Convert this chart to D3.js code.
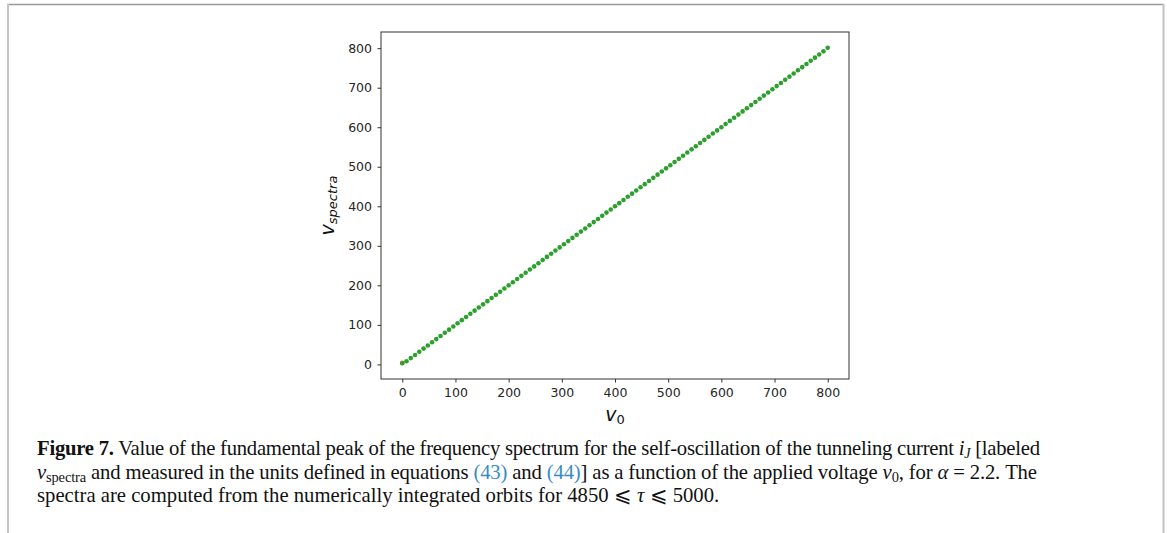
<!DOCTYPE html>
<html>
<head>
<meta charset="utf-8">
<script src="https://cdn.jsdelivr.net/npm/d3@7"></script>
<style>
    body{margin:0;background:#fff;}
    svg{display:block;}
</style>
</head>
<body>
<main></main>
<script>
// data
const v0=[0,8,16,24,32,40,48,56,64,72,80,88,96,104,112,120,128,136,144,152,160,168,176,184,192,200,
    208,216,224,232,240,248,256,264,272,280,288,296,304,312,320,328,336,344,352,360,368,376,384,392,400,
    408,416,424,432,440,448,456,464,472,480,488,496,504,512,520,528,536,544,552,560,568,576,584,592,600,
    608,616,624,632,640,648,656,664,672,680,688,696,704,712,720,728,736,744,752,760,768,776,784,792,800];
const vSpectra=[3,8,16,24,32,40,48,56,64,72,80,88,96,104,112,120,128,136,144,152,160,168,176,184,192,200,
    208,216,224,232,240,248,256,264,272,280,288,296,304,312,320,328,336,344,352,360,368,376,384,392,400,
    408,416,424,432,440,448,456,464,472,480,488,496,504,512,520,528,536,544,552,560,568,576,584,592,600,
    608,616,624,632,640,648,656,664,672,680,688,696,704,712,720,728,736,744,752,760,768,776,784,792,801];
// a single orange point sits under the first green one
const orangeV0=[0];
const orangeSpec=[4];

const xTicks=[0,100,200,300,400,500,600,700,800];
const yTicks=[0,100,200,300,400,500,600,700,800];

const sizeOfSVG={width:1167,height:533};
const plot={left:381,right:849,top:32,bottom:379};

const svg=d3.select('main')
    .append('svg')
    .attr('width',sizeOfSVG.width)
    .attr('height',sizeOfSVG.height);

// page frame
const frame=()=>{
    svg.append('line').attr('x1',7).attr('x2',1164).attr('y1',4.5).attr('y2',4.5)
        .attr('stroke','#9a9a9a').attr('stroke-width',1.3);
    svg.append('line').attr('x1',8).attr('x2',8).attr('y1',4).attr('y2',533)
        .attr('stroke','#c6c6c6').attr('stroke-width',2);
    svg.append('line').attr('x1',1163.5).attr('x2',1163.5).attr('y1',4).attr('y2',533)
        .attr('stroke','#c2c2c2').attr('stroke-width',2);
};

// matplotlib style 5% margins
const padded=(vals)=>{
    const lo=d3.min(vals),hi=d3.max(vals),m=(hi-lo)*0.05;
    return [lo-m,hi+m];
};

const xScale=d3.scaleLinear().domain(padded(v0)).range([plot.left,plot.right]);
const yScale=d3.scaleLinear().domain(padded(vSpectra)).range([plot.bottom,plot.top]);

const axes=()=>{
    const xAxis=svg.append('g')
        .attr('transform',`translate(0,${plot.bottom})`)
        .call(d3.axisBottom(xScale).tickValues(xTicks).tickSize(3.5).tickPadding(6).tickSizeOuter(0));
    const yAxis=svg.append('g')
        .attr('transform',`translate(${plot.left},0)`)
        .call(d3.axisLeft(yScale).tickValues(yTicks).tickSize(3.5).tickPadding(5.5).tickSizeOuter(0));
    [xAxis,yAxis].forEach(g=>{
        g.select('.domain').remove();
        g.selectAll('.tick line').attr('stroke','#333').attr('stroke-width',1);
        g.selectAll('.tick text').attr('fill','#262626')
            .style('font-family','"DejaVu Sans", sans-serif').style('font-size','12.5px');
    });
    svg.append('rect')
        .attr('x',plot.left).attr('y',plot.top)
        .attr('width',plot.right-plot.left).attr('height',plot.bottom-plot.top)
        .attr('fill','none').attr('stroke','#333').attr('stroke-width',1);
};

const labels=()=>{
    const xl=svg.append('text')
        .attr('x',(plot.left+plot.right)/2).attr('y',421)
        .attr('text-anchor','middle')
        .style('font-family','"DejaVu Sans", sans-serif').attr('fill','#111');
    xl.append('tspan').text('v').style('font-style','italic').style('font-size','19px');
    xl.append('tspan').text('0').attr('dy',3).style('font-size','13px');

    const yl=svg.append('text')
        .attr('transform',`translate(334,${(plot.top+plot.bottom)/2}) rotate(-90)`)
        .attr('text-anchor','middle')
        .style('font-family','"DejaVu Sans", sans-serif').style('font-style','italic').attr('fill','#111');
    yl.append('tspan').text('v').style('font-size','19px');
    yl.append('tspan').text('spectra').attr('dy',3).style('font-size','13px');
};

const points=()=>{
    svg.append('g').selectAll('circle')
        .data(orangeV0)
        .enter()
            .append('circle')
            .attr('cx',d=>xScale(d))
            .attr('cy',(d,i)=>yScale(orangeSpec[i]))
            .attr('r',2.3)
            .attr('fill','#ff7f0e');
    svg.append('g').selectAll('circle')
        .data(v0)
        .enter()
            .append('circle')
            .attr('cx',d=>xScale(d))
            .attr('cy',(d,i)=>yScale(vSpectra[i]))
            .attr('r',2.3)
            .attr('fill','#2ca02c');
};

// caption, three lines, first two justified
const caption=()=>{
    const font='"Liberation Serif", "DejaVu Serif", serif';
    const link='#3a8cc4';
    const line=(y)=>svg.append('text').attr('x',37).attr('y',y)
        .style('font-family',font).style('font-size','18px').attr('fill','#111');
    const add=(t,txt,style={})=>{
        const s=t.append('tspan').text(txt);
        Object.entries(style).forEach(([k,v])=>{
            if(k==='dy'||k==='fill') s.attr(k,v); else s.style(k,v);
        });
        return s;
    };

    const l1=line(455);
    add(l1,'Figure 7.',{'font-weight':'bold'});
    add(l1,' Value of the fundamental peak of the frequency spectrum for the self-oscillation of the tunneling current ');
    add(l1,'i',{'font-style':'italic'});
    add(l1,'J',{'font-style':'italic','font-size':'0.68em','dy':3});
    add(l1,' [labeled',{'dy':-3});

    const l2=line(478.5);
    add(l2,'ν',{'font-style':'italic'});
    add(l2,'spectra',{'font-size':'0.7em','dy':3});
    add(l2,' and measured in the units defined in equations ',{'dy':-3});
    add(l2,'(43)',{'fill':link});
    add(l2,' and ');
    add(l2,'(44)',{'fill':link});
    add(l2,'] as a function of the applied voltage ');
    add(l2,'ν',{'font-style':'italic'});
    add(l2,'0',{'font-size':'0.7em','dy':3});
    add(l2,', for ',{'dy':-3});
    add(l2,'α',{'font-style':'italic'});
    add(l2,' = 2.2. The');

    const l3=line(502);
    add(l3,'spectra are computed from the numerically integrated orbits for 4850 ⩽ ');
    add(l3,'τ',{'font-style':'italic'});
    add(l3,' ⩽ 5000.');

    // size the type so the last (unjustified) line ends where it does in the figure
    const fs=18*681/l3.node().getComputedTextLength();
    [l1,l2,l3].forEach(t=>t.style('font-size',fs+'px'));
    l1.attr('textLength',1003).attr('lengthAdjust','spacing');
    l2.attr('textLength',1000).attr('lengthAdjust','spacing');
};

frame();
axes();
points();
labels();
caption();
</script>
</body>
</html>
